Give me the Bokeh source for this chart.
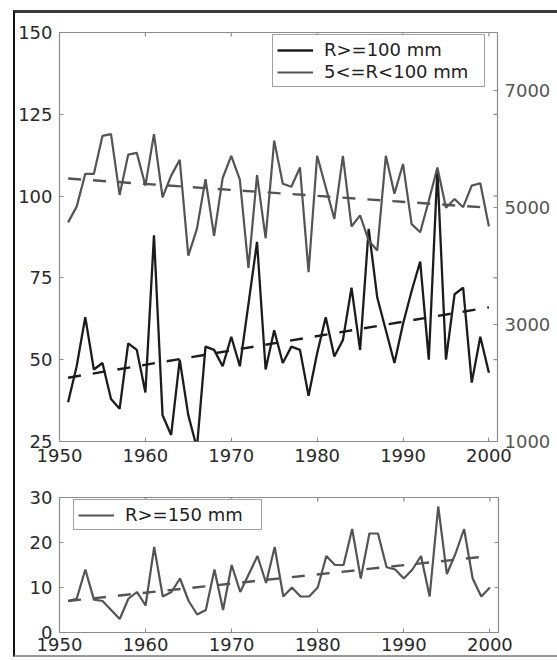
import math
from bokeh.plotting import figure
from bokeh.models import Range1d, LinearAxis, FixedTicker, Legend, LegendItem
from bokeh.layouts import column
from bokeh.core.properties import value
from bokeh.embed import file_html
from bokeh.resources import INLINE

# ---------------- data ----------------
years = list(range(1951, 2001))

# counts of days with R >= 100 mm (left axis of the upper panel)
r_ge_100 = [37, 48, 63, 47, 49, 38, 35, 55, 53, 40,
            88, 33, 27, 50, 33, 23, 54, 53, 48, 57,
            48, 67, 86, 47, 59, 49, 54, 53, 39, 52,
            63, 51, 56, 72, 53, 90, 69, 59, 49, 61,
            71, 80, 50, 108, 50, 70, 72, 43, 57, 46]

# counts of days with 5 <= R < 100 mm (right axis of the upper panel)
r_5_100 = [4750, 5020, 5580, 5580, 6230, 6260, 5220, 5910, 5940, 5380,
           6260, 5180, 5550, 5820, 4180, 4640, 5490, 4520, 5510, 5890,
           5480, 3970, 5560, 4480, 6150, 5410, 5360, 5690, 3900, 5890,
           5350, 4810, 5890, 4680, 4870, 4440, 4270, 5890, 5240, 5750,
           4720, 4580, 5120, 5690, 5000, 5150, 5010, 5380, 5420, 4680]

# counts of days with R >= 150 mm (lower panel)
r_ge_150 = [7, 7.5, 14, 7.3, 7, 5, 3, 7.5, 9, 6,
            19, 8, 9, 12, 7, 4, 5, 14, 5, 15,
            9, 13, 17, 11, 19, 8, 10, 8, 8, 10,
            17, 15, 15, 23, 12, 22, 22, 14.5, 14, 12,
            14, 17, 8, 28, 13, 17.5, 23, 12, 8, 10]

# linear trend lines (end values)
trend_years = [1951, 2000]
trend_100 = [44.5, 66]
trend_5_100 = [5500, 5000]
trend_150 = [7, 17]

x_lim = (1950, 2001)
y_lim_top = (25, 150)
y_lim_right = (1000, 8000)
y_lim_bot = (0, 30)

x_ticks = [1950, 1960, 1970, 1980, 1990, 2000]
left_ticks_top = [25, 50, 75, 100, 125, 150]
right_ticks_top = [1000, 3000, 5000, 7000]
left_ticks_bot = [0, 10, 20, 30]

labels_top = ["R>=100 mm", "5<=R<100 mm"]
labels_bot = ["R>=150 mm"]

# ---------------- styling ----------------
FONT = "DejaVu Sans"
FS = "18px"
SPINE = "#8c8c8c"
BLACK = "#1c1c1c"
GREY = "#545454"


def style_axis(ax, ticks, label_color="#2a2a2a", standoff=7):
    ax.ticker = FixedTicker(ticks=ticks)
    ax.axis_line_color = None
    ax.major_tick_line_color = SPINE
    ax.major_tick_in = 4
    ax.major_tick_out = 0
    ax.minor_tick_line_color = None
    ax.major_label_text_font = FONT
    ax.major_label_text_font_size = FS
    ax.major_label_text_color = label_color
    ax.major_label_standoff = standoff


def style_fig(p):
    p.xgrid.grid_line_color = None
    p.ygrid.grid_line_color = None
    p.outline_line_color = SPINE
    p.outline_line_width = 1.2
    p.background_fill_color = "white"
    p.border_fill_color = "white"


def mirror_ticks(p, yticks, ylim):
    # box-style tick marks on the top and right edges (inner half is visible)
    p.scatter(x_ticks, [ylim[1]] * len(x_ticks), marker="dash", size=8,
              angle=math.pi / 2, line_color=SPINE, line_width=1.2)
    p.scatter([x_lim[1]] * len(yticks), yticks, marker="dash", size=8,
              line_color=SPINE, line_width=1.2)


# ---------------- upper panel ----------------
top = figure(frame_width=439, frame_height=409,
             x_range=Range1d(*x_lim), y_range=Range1d(*y_lim_top),
             output_backend="svg", toolbar_location=None,
             min_border_left=43, min_border_right=60,
             min_border_top=19, min_border_bottom=29)
top.extra_y_ranges = {"right": Range1d(*y_lim_right)}
style_fig(top)
style_axis(top.xaxis[0], x_ticks, standoff=7)
style_axis(top.yaxis[0], left_ticks_top)

ax_r = LinearAxis(y_range_name="right")
style_axis(ax_r, right_ticks_top, label_color="#555555", standoff=7)
top.add_layout(ax_r, "right")

mirror_ticks(top, left_ticks_top, y_lim_top)

r_black = top.line(years, r_ge_100, line_color=BLACK, line_width=2.3)
r_grey = top.line(years, r_5_100, line_color=GREY, line_width=2.2,
                  y_range_name="right")
top.line(trend_years, trend_100, line_color=BLACK, line_width=2.4,
         line_dash="13 12")
top.line(trend_years, trend_5_100, line_color=GREY, line_width=2.4,
         line_dash="13 12", y_range_name="right")

leg_top = Legend(items=[LegendItem(label=value(labels_top[0]), renderers=[r_black]),
                        LegendItem(label=value(labels_top[1]), renderers=[r_grey])],
                 location=(213, 354))
top.add_layout(leg_top)

# ---------------- lower panel ----------------
bot = figure(frame_width=439, frame_height=135,
             x_range=Range1d(*x_lim), y_range=Range1d(*y_lim_bot),
             output_backend="svg", toolbar_location=None,
             min_border_left=43, min_border_right=60,
             min_border_top=27, min_border_bottom=23)
style_fig(bot)
style_axis(bot.xaxis[0], x_ticks, standoff=5)
style_axis(bot.yaxis[0], left_ticks_bot)

mirror_ticks(bot, left_ticks_bot, y_lim_bot)

r150 = bot.line(years, r_ge_150, line_color=GREY, line_width=2.2)
bot.line(trend_years, trend_150, line_color=GREY, line_width=2.4,
         line_dash="13 12")

leg_bot = Legend(items=[LegendItem(label=value(labels_bot[0]), renderers=[r150])],
                 location=(14, 102))
bot.add_layout(leg_bot)

for lg, lw in [(leg_top, 156), (leg_bot, 132)]:
    lg.label_text_font = FONT
    lg.label_text_font_size = FS
    lg.label_text_color = "#222222"
    lg.glyph_width = 36
    lg.glyph_height = 20
    lg.label_height = 20
    lg.label_width = lw
    lg.label_standoff = 11
    lg.padding = 4
    lg.spacing = 1
    lg.margin = 0
    lg.border_line_color = "#444444"
    lg.border_line_width = 1.2
    lg.background_fill_color = "white"
    lg.background_fill_alpha = 1.0

layout = column(top, bot, width=544, margin=(10, 0, 0, 13),
                styles={"border-top": "3px solid #3a3a3a",
                        "border-left": "2px solid #111111",
                        "border-bottom": "2px solid #9a9a9a",
                        "background-color": "white",
                        "overflow": "hidden"})

open("out.html", "w").write(file_html(layout, INLINE))
